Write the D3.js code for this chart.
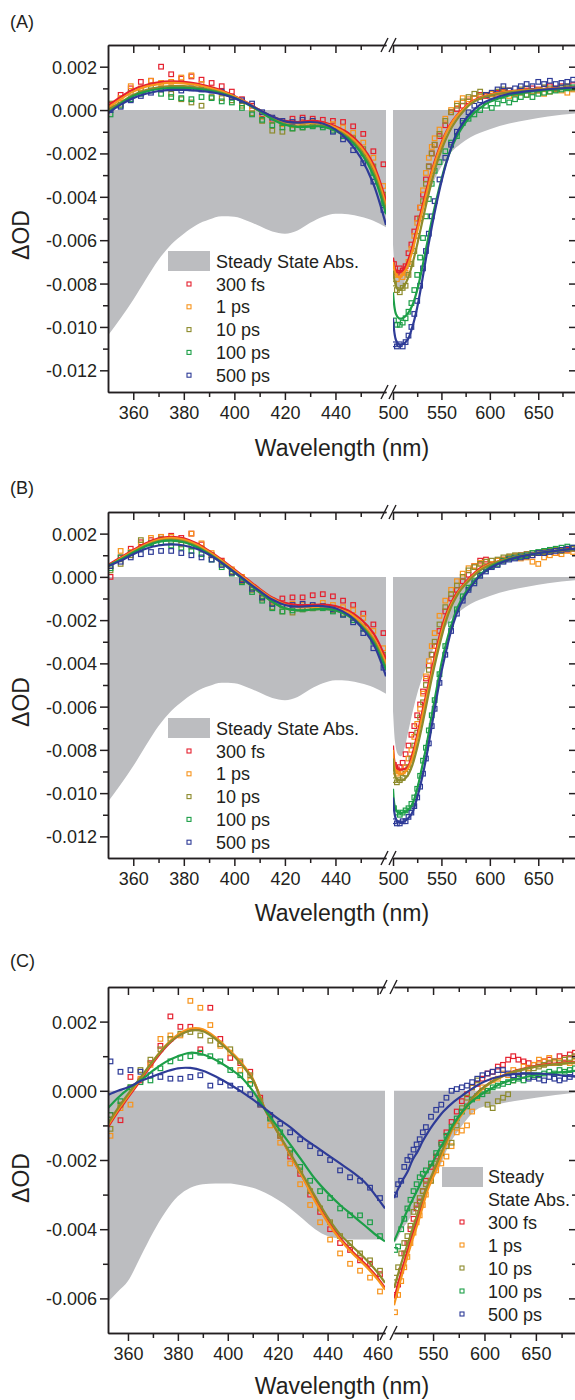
<!DOCTYPE html>
<html>
<head>
<meta charset="utf-8">
<script src="https://cdn.jsdelivr.net/npm/d3@7"></script>
<style>
  body { margin: 0; background: #fff; }
  svg text { font-family: "Liberation Sans", Arial, sans-serif; fill: #231f20; }
</style>
</head>
<body>
<svg id="chart" width="575" height="1400"></svg>
<script>
// values are in units of 1e-3 dOD (tick labels are divided back by 1000)

var seriesNames = ["300 fs", "1 ps", "10 ps", "100 ps", "500 ps"];
var seriesColors = ["#e5202e", "#f7941d", "#8d8b2c", "#1d9f48", "#2e3b97"];
var grayFill = "#bcbdc0";

// ---- panels A and B share wavelength grids ----
var ssWlLeftAB = [350,355,360,365,370,375,380,385,390,395,400,405,410,415,420,425,430,435,440,445,450,455,460];
var ssLeftAB = [-10.4,-9.6,-8.75,-7.8,-6.9,-6.2,-5.7,-5.3,-5.05,-4.9,-4.92,-5.1,-5.35,-5.6,-5.7,-5.55,-5.2,-4.92,-4.78,-4.8,-4.92,-5.1,-5.4];
var ssWlRightAB = [500,502,505,508,512,516,520,525,530,535,540,545,550,555,560,570,580,590,600,620,640,660,690];
var ssRightAB = [-6.2,-7.6,-8.2,-8.3,-7.9,-7.1,-6.3,-5.4,-4.7,-4.1,-3.5,-3.0,-2.6,-2.25,-1.95,-1.55,-1.25,-1.05,-0.88,-0.62,-0.45,-0.3,-0.15];

var fitWlLeftAB = [350,355,360,365,370,375,380,385,390,395,400,405,410,415,420,425,430,435,440,445,450,455,460];
var fitWlRightAB = [500,503,506,510,515,520,525,530,535,540,545,550,555,560,565,570,580,590,600,620,650,690];
var ptWlLeftAB = [351,355,359,363,367,371,375,379,383,387,391,395,399,403,407,411,415,419,423,427,431,435,439,443,447,451,455,459];
var ptWlRightAB = [501,504,507,510,513,516,519,522,525,528,531,534,537,540,543,548,554,560,566,572,578,584,590,596,602,608,614,620,626,632,638,644,650,656,662,668,674,680,686];

// panel A
var aFitLeft = [
  [0.2,0.6,0.95,1.15,1.28,1.32,1.3,1.22,1.08,0.9,0.65,0.35,0.0,-0.3,-0.5,-0.55,-0.5,-0.55,-0.75,-1.05,-1.6,-2.5,-4.2],
  [0.1,0.5,0.85,1.08,1.2,1.25,1.23,1.16,1.03,0.86,0.62,0.33,0.0,-0.32,-0.55,-0.62,-0.6,-0.62,-0.8,-1.15,-1.7,-2.65,-4.4],
  [0.0,0.35,0.7,0.92,1.05,1.1,1.1,1.05,0.95,0.8,0.58,0.3,-0.05,-0.4,-0.65,-0.75,-0.72,-0.72,-0.9,-1.25,-1.85,-2.85,-4.6],
  [-0.1,0.3,0.65,0.85,0.97,1.02,1.02,0.98,0.9,0.76,0.56,0.28,-0.05,-0.42,-0.68,-0.78,-0.76,-0.76,-0.95,-1.3,-1.95,-3.0,-4.8],
  [-0.15,0.25,0.55,0.75,0.88,0.93,0.93,0.9,0.84,0.73,0.55,0.3,0.0,-0.3,-0.52,-0.58,-0.55,-0.62,-0.9,-1.4,-2.2,-3.4,-5.3]
];
var aFitRight = [
  [-6.8,-7.4,-7.5,-7.4,-7.0,-6.3,-5.4,-4.5,-3.6,-2.8,-2.1,-1.5,-1.0,-0.6,-0.3,-0.05,0.35,0.58,0.72,0.86,0.96,1.05],
  [-7.0,-7.6,-7.7,-7.6,-7.2,-6.5,-5.6,-4.7,-3.8,-2.9,-2.2,-1.6,-1.05,-0.65,-0.32,-0.08,0.32,0.56,0.7,0.85,0.95,1.05],
  [-7.4,-8.1,-8.3,-8.2,-7.8,-7.1,-6.2,-5.2,-4.2,-3.3,-2.5,-1.85,-1.3,-0.85,-0.5,-0.2,0.27,0.53,0.67,0.82,0.93,1.02],
  [-8.4,-9.4,-9.6,-9.6,-9.4,-9.0,-8.3,-7.3,-6.2,-5.1,-4.1,-3.2,-2.4,-1.8,-1.3,-0.9,-0.3,0.1,0.38,0.68,0.88,1.0],
  [-9.6,-10.6,-10.8,-10.8,-10.6,-10.0,-9.1,-7.9,-6.6,-5.4,-4.3,-3.3,-2.45,-1.75,-1.15,-0.75,-0.15,0.25,0.48,0.75,0.92,1.05]
];
var aPtLeft = [
  [0.25,0.7,1.0,1.3,1.35,2.0,1.65,1.45,1.55,1.4,1.25,1.1,0.85,0.5,0.2,-0.2,-0.45,-0.6,-0.4,-0.35,-0.4,-0.45,-0.5,-0.55,-0.75,-1.1,-1.9,-2.5],
  [0.1,0.55,1.1,1.0,1.35,1.25,1.3,1.5,1.6,1.2,0.95,0.8,0.6,0.3,0.05,-0.3,-0.5,-0.65,-0.7,-0.6,-0.55,-0.65,-0.65,-0.8,-1.05,-1.5,-2.2,-3.5],
  [0.3,0.25,0.8,0.9,1.1,0.95,0.75,0.5,0.35,0.2,0.6,0.55,0.45,0.2,-0.15,-0.5,-0.95,-1.0,-0.85,-0.8,-0.7,-0.7,-0.85,-1.1,-1.3,-1.8,-2.6,-3.9],
  [-0.2,0.2,0.5,0.75,0.9,0.75,0.6,0.55,0.5,0.6,0.55,0.4,0.35,0.1,-0.2,-0.45,-0.7,-0.8,-0.85,-0.8,-0.75,-0.8,-0.95,-1.2,-1.5,-2.0,-2.9,-4.3],
  [0.0,0.15,0.45,0.65,0.8,0.95,1.0,0.9,1.0,0.95,0.9,0.85,0.6,0.45,0.3,-0.1,-0.35,-0.5,-0.55,-0.45,-0.5,-0.7,-1.0,-1.35,-1.85,-2.45,-3.3,-4.6]
];
var aPtRight = [
  [-7.1,-7.5,-7.3,-7.4,-7.2,-6.6,-6.2,-5.6,-5.0,-4.5,-3.9,-3.2,-2.6,-2.0,-1.6,-1.2,-0.7,-0.1,0.05,0.2,0.4,0.55,0.7,0.65,0.75,0.8,0.85,0.9,0.8,0.85,0.9,1.0,0.95,1.0,1.1,1.0,1.1,1.05,1.15],
  [-7.6,-7.8,-7.6,-7.7,-7.5,-7.0,-6.4,-5.8,-5.2,-4.5,-3.7,-2.9,-2.2,-1.7,-1.3,-0.9,-0.4,0.0,0.3,0.55,0.5,0.55,0.6,0.7,0.75,0.7,0.8,0.65,0.75,0.8,0.7,0.85,0.9,0.75,0.85,0.95,0.9,0.8,0.95],
  [-8.0,-8.3,-8.4,-8.2,-8.1,-7.6,-7.1,-6.5,-5.8,-5.0,-4.2,-3.4,-2.6,-2.0,-1.6,-1.1,-0.5,-0.1,0.2,0.4,0.6,0.75,0.85,0.7,0.65,0.85,0.95,0.9,0.8,0.95,1.0,0.85,0.9,1.05,1.0,0.95,1.05,1.1,1.0],
  [-9.7,-9.9,-9.9,-9.8,-9.6,-9.3,-8.9,-8.3,-7.6,-6.8,-5.9,-4.9,-4.1,-3.4,-2.8,-2.4,-1.9,-1.5,-1.2,-0.6,-0.4,-0.2,0.0,0.2,0.1,0.3,0.45,0.35,0.5,0.6,0.7,0.6,0.75,0.8,0.85,0.9,0.95,1.0,1.05],
  [-10.8,-10.9,-10.8,-10.9,-10.7,-10.4,-10.0,-9.4,-8.8,-8.1,-7.3,-6.5,-5.7,-4.9,-4.2,-3.2,-2.2,-1.6,-1.0,-0.5,-0.1,0.2,0.45,0.7,0.8,0.95,1.1,0.9,1.0,1.1,1.2,1.1,1.3,1.2,1.35,1.2,1.25,1.3,1.4]
];

// panel B
var bFitLeft = [
  [0.55,0.9,1.25,1.55,1.78,1.85,1.78,1.55,1.2,0.8,0.35,-0.1,-0.55,-0.95,-1.2,-1.3,-1.3,-1.28,-1.35,-1.55,-1.95,-2.6,-3.8],
  [0.5,0.85,1.2,1.5,1.72,1.8,1.72,1.5,1.15,0.75,0.3,-0.15,-0.6,-1.0,-1.28,-1.4,-1.4,-1.38,-1.45,-1.65,-2.1,-2.8,-4.0],
  [0.5,0.8,1.15,1.45,1.65,1.72,1.65,1.42,1.08,0.68,0.22,-0.25,-0.72,-1.15,-1.45,-1.55,-1.52,-1.48,-1.55,-1.75,-2.2,-2.9,-4.2],
  [0.5,0.8,1.12,1.42,1.62,1.68,1.6,1.38,1.05,0.65,0.2,-0.25,-0.72,-1.15,-1.45,-1.55,-1.52,-1.48,-1.55,-1.8,-2.25,-3.0,-4.3],
  [0.5,0.75,1.05,1.3,1.45,1.5,1.45,1.3,1.02,0.65,0.22,-0.22,-0.65,-1.05,-1.3,-1.38,-1.35,-1.35,-1.45,-1.75,-2.3,-3.1,-4.6]
];
var bFitRight = [
  [-7.8,-8.8,-8.9,-8.9,-8.8,-8.2,-7.3,-6.3,-5.3,-4.3,-3.3,-2.4,-1.7,-1.2,-0.8,-0.5,0.0,0.4,0.6,0.85,1.1,1.3],
  [-8.0,-9.0,-9.1,-9.1,-8.9,-8.4,-7.5,-6.5,-5.5,-4.5,-3.5,-2.6,-1.85,-1.3,-0.9,-0.55,-0.05,0.35,0.58,0.85,1.1,1.3],
  [-8.4,-9.3,-9.4,-9.4,-9.2,-8.7,-7.9,-6.9,-5.8,-4.7,-3.7,-2.8,-2.0,-1.4,-0.95,-0.6,-0.1,0.3,0.55,0.85,1.1,1.3],
  [-9.8,-10.8,-10.9,-10.9,-10.8,-10.5,-9.8,-8.8,-7.7,-6.4,-5.2,-4.0,-3.05,-2.25,-1.6,-1.1,-0.4,0.1,0.45,0.82,1.1,1.3],
  [-10.2,-11.2,-11.35,-11.35,-11.2,-10.9,-10.2,-9.3,-8.2,-6.9,-5.6,-4.4,-3.4,-2.5,-1.8,-1.25,-0.5,0.05,0.4,0.8,1.1,1.32]
];
var bPtLeft = [
  [0.0,0.9,1.3,1.6,1.7,1.85,1.9,1.8,2.0,1.5,1.0,0.75,0.2,-0.1,-0.5,-0.9,-1.1,-1.0,-0.95,-0.95,-0.85,-0.8,-0.9,-1.1,-1.3,-1.7,-2.2,-2.6],
  [0.5,1.2,1.15,1.5,1.8,1.85,1.85,1.7,2.0,1.55,1.1,0.7,0.35,0.0,-0.5,-0.9,-1.2,-1.3,-1.25,-1.3,-1.35,-1.2,-1.3,-1.4,-1.55,-1.9,-2.5,-3.3],
  [0.3,0.6,1.0,1.7,1.55,1.75,1.6,1.5,1.4,1.3,1.0,0.6,0.25,-0.2,-0.6,-1.0,-1.4,-1.6,-1.65,-1.5,-1.45,-1.4,-1.55,-1.7,-1.9,-2.3,-2.9,-3.6],
  [0.4,0.9,1.1,1.3,1.55,1.6,1.45,1.35,1.2,1.05,0.8,0.45,0.15,-0.25,-0.7,-1.1,-1.45,-1.6,-1.55,-1.5,-1.45,-1.45,-1.6,-1.75,-2.0,-2.4,-3.0,-3.8],
  [0.5,0.7,0.9,1.05,1.15,1.2,1.2,1.1,1.0,0.9,0.8,0.55,0.2,-0.15,-0.55,-0.95,-1.25,-1.3,-1.3,-1.25,-1.3,-1.35,-1.5,-1.75,-2.1,-2.6,-3.3,-4.2]
];
var bPtRight = [
  [-8.7,-8.9,-8.8,-8.6,-8.2,-7.8,-7.3,-6.9,-6.4,-5.9,-5.3,-4.7,-4.1,-3.6,-3.2,-2.5,-1.6,-1.0,-0.6,-0.2,0.1,0.5,0.75,0.8,0.6,0.75,0.8,0.9,0.95,1.0,1.05,1.0,1.1,1.15,1.2,1.1,1.2,1.25,1.3],
  [-9.0,-9.1,-9.0,-9.0,-8.8,-8.4,-8.0,-7.4,-6.8,-6.1,-5.4,-4.6,-3.9,-3.2,-2.6,-1.8,-1.1,-0.6,-0.2,0.15,0.4,0.5,0.65,0.7,0.6,0.75,0.8,0.9,0.95,0.85,0.9,0.7,0.6,0.9,1.0,1.1,1.05,1.2,1.15],
  [-9.4,-9.5,-9.4,-9.3,-9.1,-8.8,-8.4,-7.8,-7.2,-6.5,-5.8,-5.0,-4.3,-3.6,-3.0,-2.2,-1.4,-0.8,-0.4,0.0,0.3,0.45,0.6,0.7,0.75,0.8,0.9,0.95,1.0,1.0,1.05,1.1,1.1,1.15,1.2,1.25,1.2,1.3,1.3],
  [-10.7,-10.9,-11.0,-10.9,-10.8,-10.7,-10.5,-10.2,-9.8,-9.2,-8.5,-7.9,-7.1,-6.4,-5.7,-4.5,-3.2,-2.2,-1.5,-0.9,-0.5,-0.2,0.1,0.35,0.5,0.6,0.75,0.85,0.9,0.95,1.0,1.1,1.15,1.2,1.25,1.3,1.35,1.4,1.35],
  [-11.3,-11.4,-11.4,-11.3,-11.3,-11.1,-10.9,-10.6,-10.2,-9.7,-9.1,-8.4,-7.7,-6.9,-6.1,-4.9,-3.6,-2.5,-1.7,-1.1,-0.6,-0.3,0.05,0.25,0.45,0.55,0.7,0.8,0.85,0.9,0.95,1.0,1.1,1.1,1.15,1.2,1.25,1.3,1.35]
];

// ---- panel C ----
var ssWlLeftC = [352,356,360,365,370,375,380,385,390,395,400,405,410,415,420,425,430,435,440,445,450,455,460,463];
var ssLeftC = [-6.1,-5.8,-5.5,-4.8,-4.1,-3.5,-3.05,-2.8,-2.7,-2.68,-2.68,-2.72,-2.8,-2.95,-3.15,-3.4,-3.7,-4.0,-4.2,-4.28,-4.3,-4.3,-4.3,-4.3];
var ssWlRightC = [512,515,520,525,530,537,547,555,565,576,585,595,610,628,650,690];
var ssRightC = [-4.4,-4.3,-4.0,-3.8,-3.55,-3.3,-2.7,-2.3,-1.6,-1.1,-0.75,-0.5,-0.4,-0.3,-0.2,-0.05];

var fitWlLeftC = [352,356,360,365,370,375,380,385,390,395,400,405,410,415,420,425,430,435,440,445,450,455,460,463];
var fitWlRightC = [512,515,520,525,530,535,540,545,550,555,560,570,580,590,600,620,650,690];
var ptWlLeftC = [353,357,361,365,369,373,377,381,385,389,393,397,401,405,409,413,417,421,425,429,433,437,441,445,449,453,457,461];
var ptWlRightC = [513,516,519,522,525,528,531,534,537,540,543,548,553,558,563,568,573,578,583,588,593,598,603,608,613,618,623,628,633,638,643,648,653,658,663,668,673,678,683,688];

var cFitLeft = [
  [-1.05,-0.6,-0.2,0.3,0.8,1.25,1.58,1.75,1.75,1.52,1.2,0.83,0.33,-0.55,-1.2,-1.85,-2.5,-3.15,-3.75,-4.25,-4.65,-5.0,-5.4,-5.7],
  [-1.0,-0.55,-0.15,0.35,0.85,1.3,1.62,1.8,1.78,1.55,1.22,0.85,0.35,-0.55,-1.2,-1.85,-2.5,-3.2,-3.8,-4.3,-4.7,-5.05,-5.45,-5.75],
  [-0.95,-0.5,-0.1,0.38,0.86,1.28,1.58,1.74,1.72,1.5,1.18,0.8,0.32,-0.55,-1.2,-1.8,-2.42,-3.05,-3.65,-4.15,-4.5,-4.85,-5.25,-5.55],
  [-0.5,-0.2,0.05,0.3,0.58,0.83,1.0,1.1,1.05,0.9,0.68,0.42,0.0,-0.55,-1.05,-1.55,-2.05,-2.55,-2.95,-3.3,-3.6,-3.9,-4.2,-4.35],
  [-0.12,0.0,0.1,0.28,0.42,0.55,0.65,0.66,0.58,0.42,0.22,0.0,-0.25,-0.52,-0.8,-1.05,-1.35,-1.6,-1.85,-2.1,-2.35,-2.65,-3.1,-3.4]
];
var cFitRight = [
  [-6.0,-5.7,-5.15,-4.65,-4.15,-3.7,-3.2,-2.75,-2.4,-2.05,-1.7,-1.0,-0.55,-0.15,0.12,0.47,0.72,0.84],
  [-6.2,-5.85,-5.3,-4.8,-4.3,-3.85,-3.35,-2.85,-2.5,-2.15,-1.75,-1.05,-0.6,-0.2,0.1,0.45,0.7,0.82],
  [-5.7,-5.4,-4.9,-4.45,-4.0,-3.55,-3.1,-2.7,-2.35,-2.0,-1.65,-1.0,-0.55,-0.15,0.12,0.46,0.7,0.82],
  [-4.35,-4.15,-3.8,-3.45,-3.15,-2.85,-2.55,-2.3,-2.05,-1.75,-1.5,-0.95,-0.55,-0.25,-0.05,0.25,0.45,0.58],
  [-3.1,-2.9,-2.6,-2.35,-2.0,-1.75,-1.45,-1.2,-0.98,-0.78,-0.6,-0.32,-0.1,0.1,0.27,0.45,0.5,0.4]
];
var cPtLeft = [
  [-0.7,-0.85,0.4,0.3,0.8,1.3,2.15,1.85,1.85,1.2,2.4,1.5,0.95,0.8,0.55,-0.2,-0.75,-1.3,-1.9,-2.4,-3.0,-3.5,-4.0,-4.4,-4.6,-4.9,-5.0,-5.3],
  [-1.3,-0.5,-0.4,0.35,0.75,1.5,1.6,1.6,2.6,2.4,1.9,1.3,1.1,0.6,0.3,-0.4,-1.0,-1.5,-2.1,-2.7,-3.3,-3.8,-4.3,-4.7,-5.0,-5.2,-5.4,-5.8],
  [-1.1,-0.4,0.1,0.6,0.9,1.2,1.5,1.65,1.7,1.6,1.45,1.35,1.2,0.85,0.45,-0.3,-0.8,-1.3,-1.8,-2.3,-2.9,-3.4,-3.8,-4.2,-4.4,-4.7,-4.9,-5.2],
  [-0.7,-0.3,0.1,0.25,0.3,0.65,0.85,0.95,1.0,1.1,1.0,0.85,0.6,0.45,0.2,-0.35,-0.8,-1.2,-1.7,-2.2,-2.6,-2.9,-3.1,-3.4,-3.6,-3.6,-3.8,-4.2],
  [0.85,0.55,0.6,0.55,0.45,0.4,0.35,0.35,0.4,0.45,0.15,0.25,0.15,0.05,-0.1,-0.4,-0.7,-0.95,-1.2,-1.4,-1.6,-1.8,-2.0,-2.3,-2.5,-2.6,-2.8,-3.1]
];
var cPtRight = [
  [-5.9,-5.6,-5.2,-4.7,-4.4,-4.0,-3.7,-3.4,-3.2,-2.9,-2.6,-2.2,-1.9,-1.5,-1.2,-0.9,-0.6,-0.3,-0.1,0.1,0.2,0.35,0.5,0.55,0.7,0.75,0.9,1.0,0.9,0.85,0.8,0.75,0.8,0.85,0.9,0.85,1.0,0.95,1.05,1.1],
  [-6.4,-5.9,-5.5,-5.1,-4.8,-4.4,-4.1,-3.8,-3.6,-3.3,-3.0,-2.6,-2.3,-2.1,-1.9,-1.6,-1.2,-1.15,-1.0,-0.6,-0.2,0.1,0.0,0.3,0.35,0.5,0.45,0.6,0.55,0.7,0.65,0.75,0.9,0.85,0.95,0.8,0.85,0.9,0.8,0.85],
  [-5.4,-5.1,-4.7,-4.4,-4.2,-3.9,-3.5,-3.3,-3.1,-2.9,-2.7,-2.6,-2.1,-1.8,-1.6,-1.5,-1.0,-0.5,-0.2,0.1,0.3,0.0,-0.4,-0.5,-0.3,-0.2,-0.1,0.3,0.5,0.55,0.6,0.65,0.7,0.75,0.8,0.85,0.8,0.9,0.95,1.0],
  [-4.6,-4.5,-4.0,-3.7,-3.4,-3.15,-2.9,-2.7,-2.5,-2.4,-2.3,-2.1,-1.8,-1.55,-1.3,-1.05,-0.8,-0.6,-0.45,-0.25,-0.15,-0.1,0.0,0.1,0.15,0.2,0.25,0.3,0.35,0.3,0.4,0.45,0.45,0.5,0.55,0.5,0.6,0.55,0.6,0.65],
  [-3.0,-2.7,-2.6,-2.2,-2.0,-1.9,-1.7,-1.55,-1.4,-1.2,-1.05,-0.75,-0.55,-0.4,-0.2,0.0,0.05,0.1,0.15,0.25,0.35,0.45,0.5,0.55,0.6,0.6,0.5,0.45,0.4,0.45,0.35,0.4,0.35,0.3,0.4,0.35,0.3,0.35,0.4,0.5]
];

// tick values
var yMajorAB = [-12,-10,-8,-6,-4,-2,0,2];
var yMinorAB = [-11,-9,-7,-5,-3,-1,1];
var yMajorC = [-6,-4,-2,0,2];
var yMinorC = [-5,-3,-1,1];
var xLeftMajorAB = [360,380,400,420,440];
var xLeftMinorAB = [370,390,410,430,450];
var xLeftMajorC = [360,380,400,420,440,460];
var xLeftMinorC = [370,390,410,430,450];
var xRightMajorAB = [500,550,600,650];
var xRightMajorC = [550,600,650];
var xRightMinor = [525,575,625,675];

var svg = d3.select("#chart");
var ink = "#231f20";

var panels = [
  {
    label: "(A)", labelY: 28, top: 45, bottom: 392, yDomain: [-13, 3],
    yMajor: yMajorAB, yMinor: yMinorAB,
    xl: [350, 460], xlRange: [108, 386], xr: [500, 690], xrRange: [393, 577],
    xlMajor: xLeftMajorAB, xlMinor: xLeftMinorAB, xrMajor: xRightMajorAB, xrMinor: xRightMinor,
    ss: [[ssWlLeftAB, ssLeftAB], [ssWlRightAB, ssRightAB]],
    fitWl: [fitWlLeftAB, fitWlRightAB], fits: [aFitLeft, aFitRight],
    ptWl: [ptWlLeftAB, ptWlRightAB], pts: [aPtLeft, aPtRight],
    legend: { box: [168, 251, 42, 20], ssLines: ["Steady State Abs."], ssY: [268], mx: 189, tx: 216, y0: 284, dy: 22.8 },
    titleY: 456, yTitleY: 235
  },
  {
    label: "(B)", labelY: 494, top: 512, bottom: 858, yDomain: [-13, 3],
    yMajor: yMajorAB, yMinor: yMinorAB,
    xl: [350, 460], xlRange: [108, 386], xr: [500, 690], xrRange: [393, 577],
    xlMajor: xLeftMajorAB, xlMinor: xLeftMinorAB, xrMajor: xRightMajorAB, xrMinor: xRightMinor,
    ss: [[ssWlLeftAB, ssLeftAB], [ssWlRightAB, ssRightAB]],
    fitWl: [fitWlLeftAB, fitWlRightAB], fits: [bFitLeft, bFitRight],
    ptWl: [ptWlLeftAB, ptWlRightAB], pts: [bPtLeft, bPtRight],
    legend: { box: [168, 718, 42, 20], ssLines: ["Steady State Abs."], ssY: [735], mx: 189, tx: 216, y0: 751, dy: 22.8 },
    titleY: 921, yTitleY: 702
  },
  {
    label: "(C)", labelY: 967, top: 987, bottom: 1333, yDomain: [-7, 3],
    yMajor: yMajorC, yMinor: yMinorC,
    xl: [352, 463], xlRange: [108, 385], xr: [512, 690], xrRange: [394, 577],
    xlMajor: xLeftMajorC, xlMinor: xLeftMinorC, xrMajor: xRightMajorC, xrMinor: xRightMinor,
    ss: [[ssWlLeftC, ssLeftC], [ssWlRightC, ssRightC]],
    fitWl: [fitWlLeftC, fitWlRightC], fits: [cFitLeft, cFitRight],
    ptWl: [ptWlLeftC, ptWlRightC], pts: [cPtLeft, cPtRight],
    legend: { box: [442, 1167, 41, 20], ssLines: ["Steady", "State Abs."], ssY: [1183, 1206], mx: 462, tx: 488, y0: 1222, dy: 23 },
    titleY: 1394, yTitleY: 1178
  }
];

panels.forEach(function (p, pi) {
  var g = svg.append("g");
  var y = d3.scaleLinear().domain(p.yDomain).range([p.bottom, p.top]);
  var xs = [
    d3.scaleLinear().domain(p.xl).range(p.xlRange),
    d3.scaleLinear().domain(p.xr).range(p.xrRange)
  ];

  // clip per segment
  xs.forEach(function (x, si) {
    var r = x.range();
    g.append("clipPath").attr("id", "clip" + pi + "_" + si)
      .append("rect")
      .attr("x", r[0]).attr("y", p.top)
      .attr("width", r[1] - r[0]).attr("height", p.bottom - p.top);
  });

  xs.forEach(function (x, si) {
    var seg = g.append("g").attr("clip-path", "url(#clip" + pi + "_" + si + ")");

    // steady state absorption (filled from zero)
    var ssData = d3.zip(p.ss[si][0], p.ss[si][1]);
    var area = d3.area()
      .x(function (d) { return x(d[0]); })
      .y0(y(0))
      .y1(function (d) { return y(d[1]); })
      .curve(d3.curveMonotoneX);
    seg.append("path").datum(ssData).attr("d", area).attr("fill", grayFill);

    // data points
    p.pts[si].forEach(function (vals, k) {
      var pts = d3.zip(p.ptWl[si], vals);
      seg.append("g").selectAll("rect").data(pts).join("rect")
        .attr("x", function (d) { return x(d[0]) - 2.3; })
        .attr("y", function (d) { return y(d[1]) - 2.3; })
        .attr("width", 4.6).attr("height", 4.6)
        .attr("fill", "none")
        .attr("stroke", seriesColors[k])
        .attr("stroke-width", 1.2);
    });

    // fitted curves
    var line = d3.line()
      .x(function (d) { return x(d[0]); })
      .y(function (d) { return y(d[1]); })
      .curve(d3.curveCatmullRom.alpha(0.5));
    p.fits[si].forEach(function (vals, k) {
      seg.append("path").datum(d3.zip(p.fitWl[si], vals))
        .attr("d", line)
        .attr("fill", "none")
        .attr("stroke", seriesColors[k])
        .attr("stroke-width", 2.2);
    });
  });

  // axes
  function styleAxis(sel) {
    sel.selectAll("path, line").attr("stroke", ink).attr("stroke-width", 1.5);
    sel.selectAll("text").attr("fill", ink).style("font-size", "18px");
  }

  var majors = [p.xlMajor, p.xrMajor];
  var minors = [p.xlMinor, p.xrMinor];
  xs.forEach(function (x, si) {
    // bottom: ticks outward with labels
    var b = g.append("g").attr("transform", "translate(0," + p.bottom + ")")
      .call(d3.axisBottom(x).tickValues(majors[si]).tickSize(8).tickSizeOuter(0)
        .tickPadding(6).tickFormat(d3.format("d")));
    styleAxis(b);
    b.selectAll("text").attr("y", 27).attr("dy", null);
    var bm = g.append("g").attr("transform", "translate(0," + p.bottom + ")")
      .call(d3.axisBottom(x).tickValues(minors[si]).tickSize(5).tickSizeOuter(0).tickFormat(""));
    styleAxis(bm);

    // top: ticks inward, no labels
    var t = g.append("g").attr("transform", "translate(0," + p.top + ")")
      .call(d3.axisBottom(x).tickValues(majors[si]).tickSize(8).tickSizeOuter(0).tickFormat(""));
    styleAxis(t);
    var tm = g.append("g").attr("transform", "translate(0," + p.top + ")")
      .call(d3.axisBottom(x).tickValues(minors[si]).tickSize(5).tickSizeOuter(0).tickFormat(""));
    styleAxis(tm);
  });

  var fmt = function (d) { return (d / 1000).toFixed(3); };
  var left = g.append("g").attr("transform", "translate(" + p.xlRange[0] + ",0)")
    .call(d3.axisLeft(y).tickValues(p.yMajor).tickSize(8).tickSizeOuter(0).tickPadding(3).tickFormat(fmt));
  styleAxis(left);
  left.selectAll("text").attr("dy", "0.36em");
  var leftMinor = g.append("g").attr("transform", "translate(" + p.xlRange[0] + ",0)")
    .call(d3.axisLeft(y).tickValues(p.yMinor).tickSize(5).tickSizeOuter(0).tickFormat(""));
  styleAxis(leftMinor);

  var right = g.append("g").attr("transform", "translate(" + p.xrRange[1] + ",0)")
    .call(d3.axisLeft(y).tickValues(p.yMajor).tickSize(8).tickSizeOuter(0).tickFormat(""));
  styleAxis(right);
  var rightMinor = g.append("g").attr("transform", "translate(" + p.xrRange[1] + ",0)")
    .call(d3.axisLeft(y).tickValues(p.yMinor).tickSize(5).tickSizeOuter(0).tickFormat(""));
  styleAxis(rightMinor);

  // axis break marks
  var bx = [p.xlRange[1] - 1.5, p.xrRange[0] - 0.5];
  [p.top, p.bottom].forEach(function (yy) {
    bx.forEach(function (cx) {
      g.append("line")
        .attr("x1", cx - 3.5).attr("y1", yy + 7)
        .attr("x2", cx + 3.5).attr("y2", yy - 7)
        .attr("stroke", ink).attr("stroke-width", 1.4);
    });
  });

  // legend
  var L = p.legend;
  var lg = g.append("g");
  lg.append("rect").attr("x", L.box[0]).attr("y", L.box[1])
    .attr("width", L.box[2]).attr("height", L.box[3]).attr("fill", grayFill);
  L.ssLines.forEach(function (s, i) {
    lg.append("text").attr("x", L.tx).attr("y", L.ssY[i]).style("font-size", "18px").text(s);
  });
  seriesNames.forEach(function (name, k) {
    var cy = L.y0 + k * L.dy;
    lg.append("rect").attr("x", L.mx - 2).attr("y", cy - 2).attr("width", 4).attr("height", 4)
      .attr("fill", "none").attr("stroke", seriesColors[k]).attr("stroke-width", 1.1);
    lg.append("text").attr("x", L.tx).attr("y", cy + 6.5).style("font-size", "18px").text(name);
  });

  // titles
  g.append("text").attr("x", 10).attr("y", p.labelY).style("font-size", "18px").text(p.label);
  g.append("text").attr("x", 342).attr("y", p.titleY).attr("text-anchor", "middle")
    .style("font-size", "23px").text("Wavelength (nm)");
  g.append("text").attr("transform", "translate(29," + p.yTitleY + ") rotate(-90)")
    .attr("text-anchor", "middle").style("font-size", "23px").text("\u0394OD");
});
</script>
</body>
</html>
